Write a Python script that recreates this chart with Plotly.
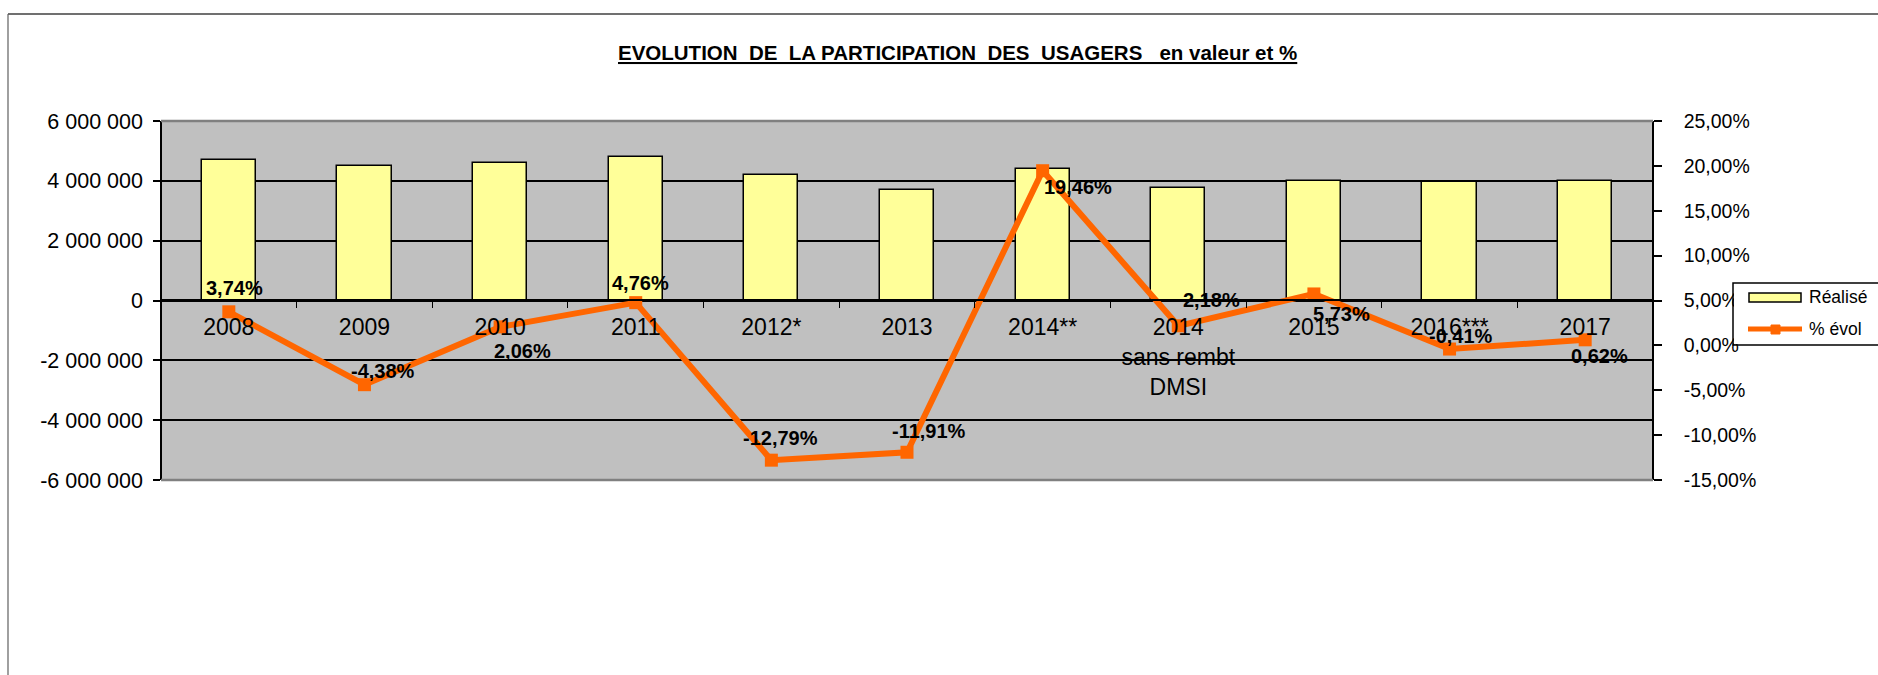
import plotly.graph_objects as go

# ---- data -----------------------------------------------------------------
categories = ["2008", "2009", "2010", "2011", "2012*", "2013", "2014**",
              "2014 sans rembt DMSI", "2015", "2016***", "2017"]
category_labels = ["2008", "2009", "2010", "2011", "2012*", "2013", "2014**",
                   "2014<br>sans rembt<br>DMSI", "2015", "2016***", "2017"]
realise = [4700000, 4494000, 4587000, 4805000, 4190000, 3691000,
           4410000, 3771000, 3987000, 3971000, 3995000]
evol_pct = [3.74, -4.38, 2.06, 4.76, -12.79, -11.91,
            19.46, 2.18, 5.73, -0.41, 0.62]

left_ticks = [-6000000, -4000000, -2000000, 0, 2000000, 4000000, 6000000]
left_tick_text = ["-6 000 000", "-4 000 000", "-2 000 000", "0",
                  "2 000 000", "4 000 000", "6 000 000"]
right_ticks = [-15, -10, -5, 0, 5, 10, 15, 20, 25]
right_tick_text = ["-15,00%", "-10,00%", "-5,00%", "0,00%", "5,00%",
                   "10,00%", "15,00%", "20,00%", "25,00%"]

# label placement for each "% évol" point (pixels right, pixels down)
label_offsets = [(6, -24), (19, -14), (22, 24), (5, -20), (9, -22), (22, -21),
                 (35, 16), (33, -26), (28, 20), (11, -13), (14, 16)]

# ---- geometry --------------------------------------------------------------
W, H = 1878, 675
L, R, T, B = 161, 1653, 121, 480


def px(x):
    return (x - L) / (R - L)


def py(y):
    return (B - y) / (B - T)


FONT = "Liberation Sans, Arial, sans-serif"
ORANGE = "#FF6600"
YELLOW = "#FFFF99"

fig = go.Figure()

fig.add_trace(go.Bar(
    x=categories, y=realise, width=0.4, name="Réalisé",
    marker=dict(color=YELLOW, line=dict(color="black", width=1.5)),
    xaxis="x", yaxis="y", hoverinfo="skip",
))
fig.add_trace(go.Scatter(
    x=categories, y=evol_pct, name="% évol", mode="lines+markers",
    line=dict(color=ORANGE, width=6),
    marker=dict(symbol="square", size=13, color=ORANGE),
    xaxis="x", yaxis="y2", hoverinfo="skip",
))

annotations = []
# data labels on the percentage line (x given as category index)
for i, (v, (dx, dy)) in enumerate(zip(evol_pct, label_offsets)):
    annotations.append(dict(
        x=i, y=v, xref="x", yref="y2",
        text="<b>" + f"{v:.2f}%".replace(".", ",") + "</b>",
        showarrow=False, xshift=dx, yshift=-dy,
        xanchor="center", yanchor="middle",
        font=dict(family=FONT, size=20, color="black"),
    ))

# title
title = ("EVOLUTION\u00a0\u00a0DE\u00a0\u00a0LA PARTICIPATION\u00a0\u00a0DES"
         "\u00a0\u00a0USAGERS\u00a0\u00a0\u00a0en valeur et %")
annotations.append(dict(
    x=px(957), y=py(53), xref="paper", yref="paper",
    text="<b><u>" + title + "</u></b>", showarrow=False,
    xanchor="center", yanchor="middle",
    font=dict(family=FONT, size=20.5, color="black"),
))

# legend texts
annotations.append(dict(
    x=px(1807), y=py(297), xref="paper", yref="paper", text="Réalisé",
    showarrow=False, xanchor="left", yanchor="middle",
    font=dict(family=FONT, size=17.5, color="black"),
))
annotations.append(dict(
    x=px(1807), y=py(329), xref="paper", yref="paper", text="% évol",
    showarrow=False, xanchor="left", yanchor="middle",
    font=dict(family=FONT, size=17.5, color="black"),
))

shapes = [
    # plot-area top / bottom border
    dict(type="line", xref="paper", yref="paper", x0=0, x1=1, y0=1, y1=1,
         line=dict(color="#808080", width=2.5), layer="above"),
    dict(type="line", xref="paper", yref="paper", x0=0, x1=1, y0=0, y1=0,
         line=dict(color="#808080", width=2.5), layer="above"),
    # page strip on the far right where the chart continues off-page
    dict(type="rect", xref="paper", yref="paper",
         x0=px(1868), x1=px(1920), y0=py(0), y1=py(700),
         line=dict(width=0), fillcolor="white", layer="above"),
    # outer chart frame (top and left edges; the rest runs off the page)
    dict(type="line", xref="paper", yref="paper",
         x0=px(8), x1=px(1900), y0=py(14), y1=py(14),
         line=dict(color="#404040", width=1.5), layer="above"),
    dict(type="line", xref="paper", yref="paper",
         x0=px(8), x1=px(8), y0=py(14), y1=py(700),
         line=dict(color="#606060", width=1.2), layer="above"),
    # legend frame (open on the right, where it leaves the page)
    dict(type="rect", xref="paper", yref="paper",
         x0=px(1734), x1=px(1900), y0=py(284), y1=py(344),
         line=dict(width=0), fillcolor="white", layer="above"),
    dict(type="path", xref="paper", yref="paper",
         path=(f"M {px(1900)},{py(283)} L {px(1733)},{py(283)} "
               f"L {px(1733)},{py(345)} L {px(1900)},{py(345)}"),
         line=dict(color="black", width=1.5), layer="above"),
    # legend swatches
    dict(type="rect", xref="paper", yref="paper",
         x0=px(1749), x1=px(1801), y0=py(293), y1=py(302),
         line=dict(color="black", width=1.5), fillcolor=YELLOW, layer="above"),
    dict(type="line", xref="paper", yref="paper",
         x0=px(1748), x1=px(1802), y0=py(329), y1=py(329),
         line=dict(color=ORANGE, width=5), layer="above"),
    dict(type="rect", xref="paper", yref="paper",
         x0=px(1771), x1=px(1780), y0=py(325), y1=py(334),
         line=dict(color=ORANGE, width=1), fillcolor=ORANGE, layer="above"),
]

n = len(categories)

fig.update_layout(
    width=W, height=H,
    margin=dict(l=L, r=W - R, t=T, b=H - B, pad=0),
    paper_bgcolor="white", plot_bgcolor="#C0C0C0",
    showlegend=False, bargap=0,
    font=dict(family=FONT, color="black"),
    xaxis=dict(
        type="category", categoryorder="array", categoryarray=categories,
        tickmode="array", tickvals=categories, ticktext=category_labels,
        range=[-0.5, n - 0.5], anchor="free", position=py(300),
        showline=True, linecolor="black", linewidth=1.5,
        ticks="outside", tickson="boundaries", ticklen=7, tickwidth=1,
        tickcolor="black", showgrid=False, zeroline=False,
        ticklabelstandoff=7,
        tickfont=dict(family=FONT, size=23, color="black"),
    ),
    xaxis2=dict(
        overlaying="x", type="linear", range=[-0.5, n - 0.5],
        anchor="free", position=py(300),
        tickmode="array", tickvals=[i - 0.5 for i in range(n + 1)],
        ticks="inside", ticklen=7, tickwidth=1, tickcolor="black",
        showticklabels=False, showline=False, showgrid=False, zeroline=False,
    ),
    yaxis=dict(
        range=[-6000000, 6000000], tickmode="array",
        tickvals=left_ticks, ticktext=left_tick_text,
        anchor="free", position=0,
        showline=True, linecolor="black", linewidth=1.5,
        ticks="outside", ticklen=7, tickwidth=1.5, tickcolor="black",
        showgrid=True, gridcolor="black", gridwidth=1.5, zeroline=False,
        ticklabelstandoff=6,
        tickfont=dict(family=FONT, size=21.5, color="black"),
    ),
    yaxis2=dict(
        overlaying="y", side="right", range=[-15, 25], tickmode="array",
        tickvals=right_ticks, ticktext=right_tick_text,
        anchor="free", position=1,
        showline=True, linecolor="black", linewidth=1.5,
        ticks="outside", ticklen=8, tickwidth=1.5, tickcolor="black",
        showgrid=False, zeroline=False,
        ticklabelstandoff=18,
        tickfont=dict(family=FONT, size=19.5, color="black"),
    ),
    yaxis3=dict(
        overlaying="y", side="right", range=[-15, 25], tickmode="array",
        tickvals=right_ticks, anchor="free", position=1,
        ticks="inside", ticklen=8, tickwidth=1.5, tickcolor="black",
        showticklabels=False, showline=False, showgrid=False, zeroline=False,
    ),
    annotations=annotations,
    shapes=shapes,
)

fig.write_html("out.html")
